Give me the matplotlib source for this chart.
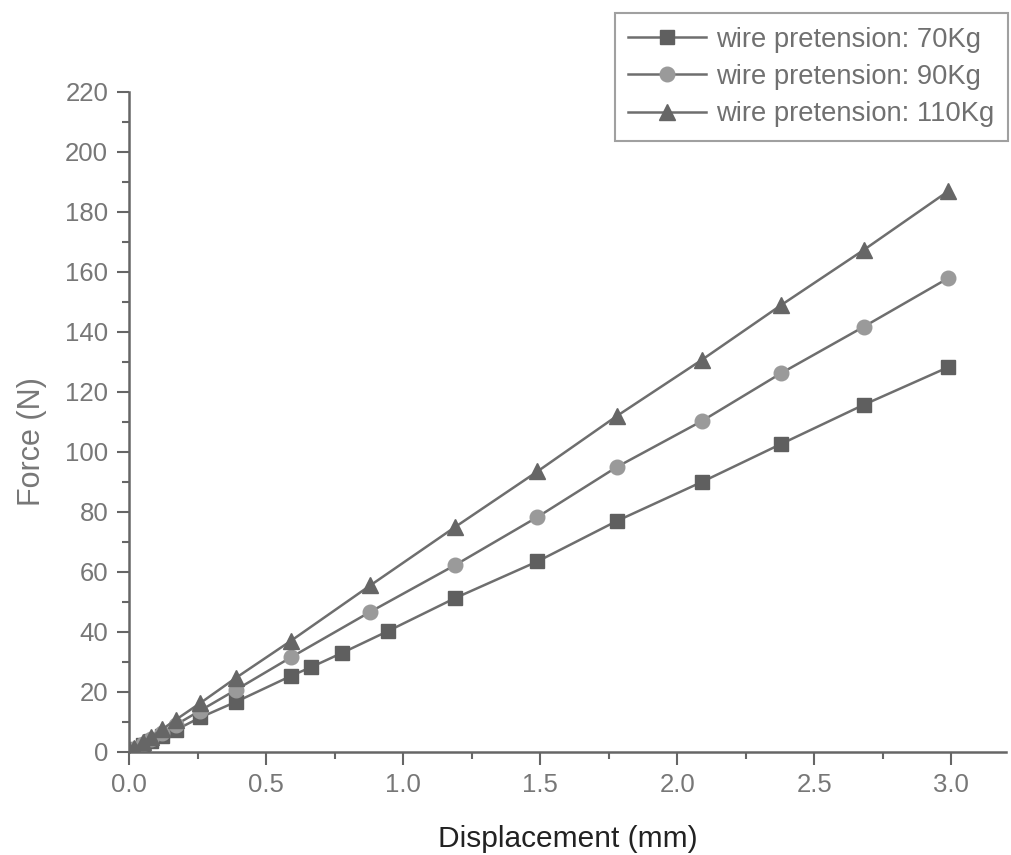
import matplotlib
matplotlib.use("Agg")
import matplotlib.pyplot as plt
from matplotlib.ticker import MultipleLocator

plt.rcParams['font.family'] = ['Liberation Sans', 'DejaVu Sans']

# Data
x_70 = [0.0, 0.02, 0.05, 0.08, 0.12, 0.17, 0.26, 0.39, 0.59, 0.665, 0.777, 0.945,
        1.19, 1.49, 1.78, 2.09, 2.38, 2.68, 2.99]
f_70 = [0.5, 1.0, 2.2, 3.5, 5.2, 7.3, 11.5, 16.7, 25.3, 28.3, 33.0, 40.3,
        51.3, 63.5, 77.0, 90.0, 102.7, 115.7, 128.3]

x_90 = [0.0, 0.02, 0.05, 0.08, 0.12, 0.17, 0.26, 0.39, 0.59, 0.88,
        1.19, 1.49, 1.78, 2.09, 2.38, 2.68, 2.99]
f_90 = [0.6, 1.1, 2.7, 4.2, 6.4, 9.0, 13.8, 20.7, 31.5, 46.7,
        62.3, 78.3, 95.0, 110.3, 126.3, 141.7, 158.0]

x_110 = [0.0, 0.02, 0.05, 0.08, 0.12, 0.17, 0.26, 0.39, 0.59, 0.88,
         1.19, 1.49, 1.78, 2.09, 2.38, 2.68, 2.99]
f_110 = [0.8, 1.3, 3.2, 5.0, 7.5, 10.7, 16.3, 24.7, 37.0, 55.5,
         75.0, 93.5, 112.0, 130.7, 149.0, 167.3, 187.0]

labels = ['wire pretension: 70Kg', 'wire pretension: 90Kg', 'wire pretension: 110Kg']

fig = plt.figure(figsize=(10.11, 8.55), dpi=100)
ax = fig.add_axes([0.1276, 0.1205, 0.8675, 0.7719])

line_col = '#6e6e6e'
ax.plot(x_70, f_70, color=line_col, lw=1.8, marker='s', ms=10,
        mfc='#5f5f5f', mec='#5f5f5f', label=labels[0])
ax.plot(x_90, f_90, color=line_col, lw=1.8, marker='o', ms=10.5,
        mfc='#9a9a9a', mec='#9a9a9a', label=labels[1])
ax.plot(x_110, f_110, color=line_col, lw=1.8, marker='^', ms=12,
        mfc='#666666', mec='#666666', label=labels[2])

ax.set_xlim(0, 3.2)
ax.set_ylim(0, 220)
ax.xaxis.set_major_locator(MultipleLocator(0.5))
ax.xaxis.set_minor_locator(MultipleLocator(0.25))
ax.yaxis.set_major_locator(MultipleLocator(20))
ax.yaxis.set_minor_locator(MultipleLocator(10))
ax.xaxis.set_major_formatter(matplotlib.ticker.FormatStrFormatter('%.1f'))

for s in ['top', 'right']:
    ax.spines[s].set_visible(False)
for s in ['left', 'bottom']:
    ax.spines[s].set_color('#666666')
    ax.spines[s].set_linewidth(1.8)

ax.tick_params(which='major', direction='out', length=9, width=1.5,
               color='#666666', labelcolor='#777777', labelsize=18.5, pad=6)
ax.tick_params(which='minor', direction='out', length=5, width=1.5,
               color='#666666')

ax.set_xlabel('Displacement (mm)', fontsize=21.5, color='#222222', labelpad=20)
ax.set_ylabel('Force (N)', fontsize=22, color='#777777')
ax.yaxis.set_label_coords(-0.094, 0.47)

leg = ax.legend(loc='upper right', bbox_to_anchor=(0.997, 0.985),
                bbox_transform=fig.transFigure, fontsize=19.7, frameon=True,
                fancybox=False, handlelength=2.85, handletextpad=0.36,
                borderaxespad=0, borderpad=0.5, labelspacing=0.42)
leg.get_frame().set_edgecolor('#888888')
leg.get_frame().set_linewidth(1.5)
for t in leg.get_texts():
    t.set_color('#707070')

fig.savefig('out.png', dpi=100)
